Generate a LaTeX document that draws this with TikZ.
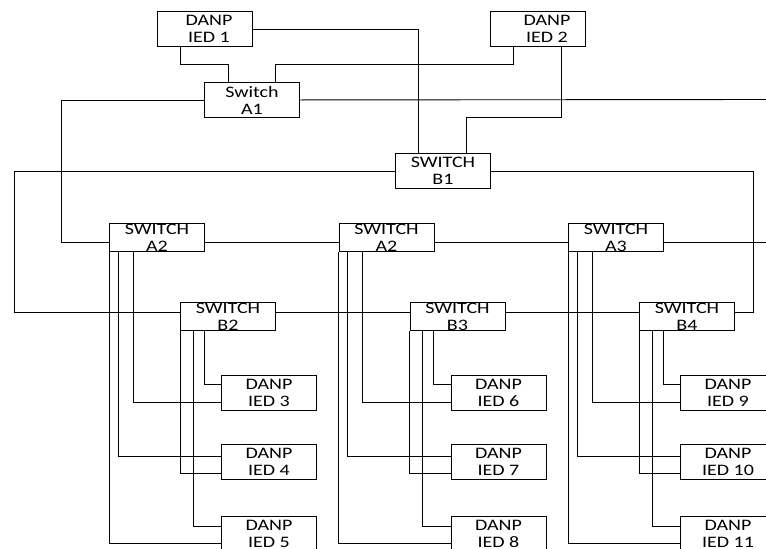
\documentclass[tikz,border=0pt]{standalone}
\usepackage{fontspec}
\setmainfont{Carlito}[FakeStretch=1.25]
\usetikzlibrary{calc}
\begin{document}
\begin{tikzpicture}[x=1pt,y=-1pt,
  line width=0.9pt,
  box/.style={draw, rectangle, fill=white, inner sep=0pt, minimum width=95pt, minimum height=35pt, anchor=north west},
  swbox/.style={box, minimum height=28pt},
  every label/.style={font=\fontsize{16}{17}\selectfont, align=center, inner sep=0pt}]
\useasboundingbox (0,0) rectangle (766,549);
\clip (0,0) rectangle (766,549);
\fill[white] (0,0) rectangle (766,549);

% top row
\node[box, label={[xshift=4pt]center:{DANP\\IED 1}}] (iedone) at (157,11) {};
\node[box, label={[xshift=9pt]center:{DANP\\IED 2}}] (iedtwo) at (490,11) {};
\node[box, label=center:{Switch\\A1}] (switchA1) at (204,82) {};
\node[box, label=center:{SWITCH\\B1}] (switchB1) at (395,153) {};

% columns
\foreach \c/\dx/\an/\bn/\i in {0/0/A2/B2/3, 1/229.5/A2/B3/6, 2/459/A3/B4/9}{
  \pgfmathtruncatemacro\ii{\i+1}
  \pgfmathtruncatemacro\iii{\i+2}
  \node[swbox, label=center:{SWITCH\\\an}] (colA\c) at (109+\dx,223) {};
  \node[swbox, label=center:{SWITCH\\\bn}] (colB\c) at (180+\dx,302) {};
  \node[box, label=center:{DANP\\IED \i}] (devP\c) at (221+\dx,375) {};
  \node[box, label=center:{DANP\\IED \ii}] (devQ\c) at (221+\dx,444) {};
  \node[box, label=center:{DANP\\IED \iii}] (devR\c) at (221+\dx,516) {};
  % switch A links
  \draw ($(colA\c.south west)+(24,0)$) |- ($(devP\c.north west)+(0,27)$);
  \draw ($(colA\c.south west)+(9,0)$) |- ($(devQ\c.north west)+(0,12)$);
  \draw (colA\c.south west) |- ($(devR\c.north west)+(0,27)$);
  % switch B links
  \draw ($(colB\c.south west)+(24,0)$) |- ($(devP\c.north west)+(0,9)$);
  \draw (colB\c.south west) |- ($(devQ\c.north west)+(0,29)$);
  \draw ($(colB\c.south west)+(13,0)$) |- ($(devR\c.north west)+(0,10)$);
}

% free ends at the right edge
\coordinate (edgeA1) at (775,99.5);
\coordinate (edgeA3) at (775,242);

% top connectors
\draw (iedone.east) -| ($(switchB1.north west)+(23,0)$);
\draw ($(iedone.south west)+(23,0)$) -- ++(0,18) -| ($(switchA1.north west)+(24,0)$);
\draw ($(switchA1.north west)+(71,0)$) -- ++(0,-18) -| ($(iedtwo.south west)+(23,0)$);
\draw ($(iedtwo.south west)+(71,0)$) -- ++(0,71) -| ($(switchB1.north west)+(71,0)$);
\draw (switchA1.west) -| ($(colA0.north west)+(-48,19)$) -- ($(colA0.north west)+(0,19)$);
\draw (switchA1.east) -- (edgeA1);
\draw (switchB1.west) -| ($(colB0.north west)+(-166,10)$) -- ($(colB0.north west)+(0,10)$);
\draw (switchB1.east) -| ($(colB2.north east)+(19,10)$) -- ($(colB2.north east)+(0,10)$);

% ring A
\draw ($(colA0.north east)+(0,19)$) -- ($(colA1.north west)+(0,19)$);
\draw ($(colA1.north east)+(0,19)$) -- ($(colA2.north west)+(0,19)$);
\draw ($(colA2.north east)+(0,19)$) -- (edgeA3);
% ring B
\draw ($(colB0.north east)+(0,10)$) -- ($(colB1.north west)+(0,10)$);
\draw ($(colB1.north east)+(0,10)$) -- ($(colB2.north west)+(0,10)$);
\end{tikzpicture}
\end{document}
